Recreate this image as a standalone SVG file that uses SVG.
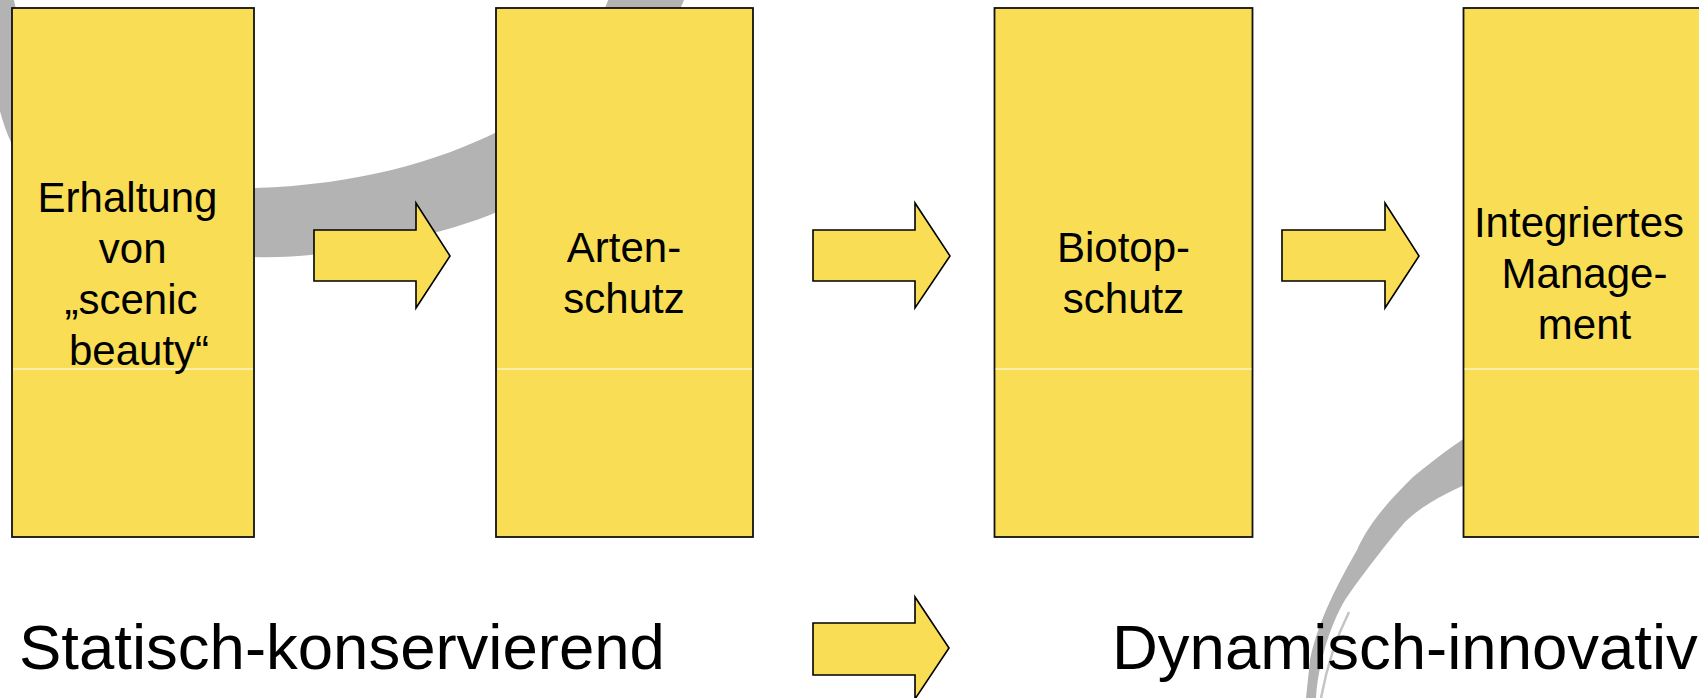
<svg xmlns="http://www.w3.org/2000/svg" width="1699" height="698" viewBox="0 0 1699 698">
  <style>
    .box { fill: #F9DE55; stroke: #111111; stroke-width: 1.8; }
    .sep { stroke: #ffffff; stroke-width: 1.2; }
    .arrow { fill: #F9DE55; stroke: #000000; stroke-width: 1.6; stroke-linejoin: miter; }
    .lbl { font-family: "Liberation Sans", Arial, sans-serif; font-size: 42px; fill: #000000; text-anchor: middle; }
    .big { font-family: "Liberation Sans", Arial, sans-serif; font-size: 63.5px; fill: #000000; }
    .swoosh { fill: #b3b3b3; }
  </style>
  <rect x="0" y="0" width="1699" height="698" fill="#ffffff"/>

  <g id="background-swooshes">
    <path class="swoosh" d="M 12,-10 C 40,150 150,192 254,188 C 360,185 440,160 497,132 C 560,100 590,50 612,-10 L 688,-10 C 650,90 570,180 497,212 C 440,237 320,260 254,257 C 95,262 0,195 -8,60 L -8,-10 Z"/>
    <path class="swoosh" d="M 1500,418 C 1470,432 1440,455 1413,477 C 1395,495 1370,520 1357,550 C 1340,580 1318,620 1310,660 L 1306,698 L 1316,698 C 1318,665 1330,625 1345,600 C 1360,578 1385,545 1405,522 C 1425,503 1450,490 1500,470 Z"/>
    <path d="M 1349,612 Q 1330,650 1321,698" fill="none" stroke="#c4c4c4" stroke-width="2.5"/>
  </g>

  <g id="connectors">
    <polygon class="arrow" points="314,230 416,230 416,203 450,256 416,308 416,281 314,281"/>
    <polygon class="arrow" points="813,230 915,230 915,203 950,256 915,308 915,281 813,281"/>
    <polygon class="arrow" points="1282,230 1385,230 1385,203 1419,256 1385,308 1385,281 1282,281"/>
    <polygon class="arrow" points="813,623 915,623 915,597 949,648 915,699 915,675 813,675"/>
  </g>

  <g id="node-erhaltung">
    <rect class="box" x="12" y="8" width="242" height="529"/>
    <line class="sep" x1="13" y1="369" x2="253" y2="369"/>
    <text class="lbl" x="127.5" y="212">Erhaltung</text>
    <text class="lbl" x="132.7" y="263">von</text>
    <text class="lbl" x="131" y="314">„scenic</text>
    <text class="lbl" x="139" y="365">beauty“</text>
  </g>

  <g id="node-artenschutz">
    <rect class="box" x="496" y="8" width="257" height="529"/>
    <line class="sep" x1="497" y1="369" x2="752" y2="369"/>
    <text class="lbl" x="624" y="262">Arten-</text>
    <text class="lbl" x="624" y="313">schutz</text>
  </g>

  <g id="node-biotopschutz">
    <rect class="box" x="994.5" y="8" width="258" height="529"/>
    <line class="sep" x1="995.5" y1="369" x2="1251.5" y2="369"/>
    <text class="lbl" x="1123.5" y="262">Biotop-</text>
    <text class="lbl" x="1123.5" y="313">schutz</text>
  </g>

  <g id="node-management">
    <rect class="box" x="1463.5" y="8" width="258" height="529"/>
    <line class="sep" x1="1464.5" y1="369" x2="1720" y2="369"/>
    <text class="lbl" x="1579" y="237">Integriertes</text>
    <text class="lbl" x="1584.5" y="288">Manage-</text>
    <text class="lbl" x="1584.5" y="339">ment</text>
  </g>

  <g id="axis-labels">
    <text class="big" x="19" y="669">Statisch-konservierend</text>
    <text class="big" x="1112" y="669">Dynamisch-innovativ</text>
  </g>
</svg>
